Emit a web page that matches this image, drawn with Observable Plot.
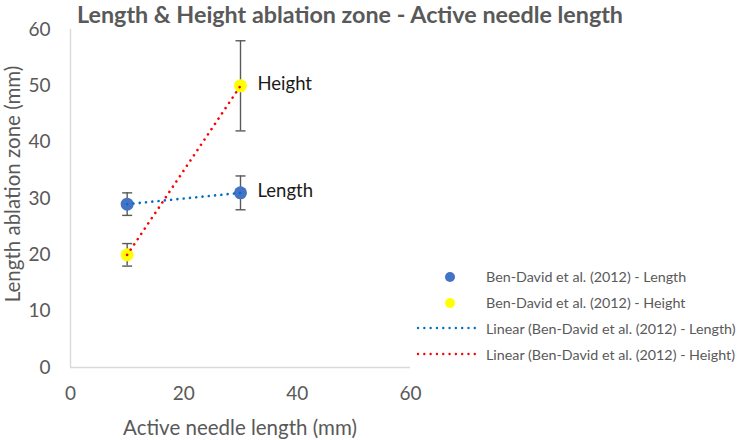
<!DOCTYPE html>
<html><head><meta charset="utf-8">
<script src="https://cdn.jsdelivr.net/npm/d3@7"></script>
<script src="https://cdn.jsdelivr.net/npm/@observablehq/plot@0.6"></script>
<style>
body{margin:0;background:#fff;font-family:Lato,"Open Sans",sans-serif;}
#wrap{position:relative;width:742px;height:440px;overflow:hidden;}
#title{position:absolute;left:0;top:1px;width:700px;text-align:center;font-weight:bold;font-size:23.3px;line-height:26px;color:#595959;}
.axt{position:absolute;color:#595959;font-size:20.5px;white-space:nowrap;}
#xlab{left:70px;width:340px;text-align:center;top:414px;line-height:26px;}
#ylab{left:12px;top:184px;transform:translate(-50%,-50%) rotate(-90deg);line-height:20px;}
#legend{position:absolute;left:414px;top:264px;font-size:14.3px;color:#595959;}
.row{display:flex;align-items:center;height:25.8px;}
.row svg{width:64px;height:14px;margin-right:8px;}
</style></head>
<body><div id="wrap">
<div id="title">Length &amp; Height ablation zone - Active needle length</div>
</div>
<script>
const needleLength = [10, 30];
const lengthMean = [29, 31];
const lengthErr = [2, 3];
const heightMean = [20, 50];
const heightErr = [2, 8];
const seriesLabels = ["Length", "Height"];
const xTicks = [0, 20, 40, 60];
const yTicks = [0, 10, 20, 30, 40, 50, 60];
const legendLabels = [
  "Ben-David et al. (2012) - Length",
  "Ben-David et al. (2012) - Height",
  "Linear (Ben-David et al. (2012) - Length)",
  "Linear (Ben-David et al. (2012) - Height)"
];
const xTitle = "Active needle length (mm)";
const yTitle = "Length ablation zone (mm)";

const lengthRows = needleLength.map((x, i) => ({series: seriesLabels[0], x, y: lengthMean[i], err: lengthErr[i]}));
const heightRows = needleLength.map((x, i) => ({series: seriesLabels[1], x, y: heightMean[i], err: heightErr[i]}));
const allRows = lengthRows.concat(heightRows);
const lastRows = [lengthRows[lengthRows.length - 1], heightRows[heightRows.length - 1]];

const cap = {draw(ctx, size) { const w = Math.sqrt(size / Math.PI); ctx.moveTo(-w, 0); ctx.lineTo(w, 0); }};
const gray = "#595959";
const dotted = {strokeWidth: 2.6, strokeDasharray: "0.01,6.3", strokeLinecap: "round"};

const chart = Plot.plot({
  width: 742, height: 440,
  marginLeft: 70, marginRight: 332, marginTop: 29, marginBottom: 73,
  x: {domain: [0, 60]},
  y: {domain: [0, 60]},
  style: {fontFamily: "Lato, 'Open Sans', sans-serif", fontSize: "19px", color: gray, background: "transparent", overflow: "visible"},
  marks: [
    Plot.axisY({ticks: yTicks, tickSize: 0, tickPadding: 20, label: null}),
    Plot.axisX({ticks: xTicks, tickSize: 0, tickPadding: 19, label: null}),
    Plot.ruleX([0], {stroke: "#d9d9d9", strokeWidth: 1.4}),
    Plot.ruleY([0], {stroke: "#d9d9d9", strokeWidth: 1.4}),
    Plot.ruleX(allRows, {x: "x", y1: d => d.y - d.err, y2: d => d.y + d.err, stroke: gray, strokeWidth: 1.4}),
    Plot.dot(allRows, {x: "x", y: d => d.y + d.err, symbol: cap, r: 5, stroke: gray, strokeWidth: 1.4, fill: "none"}),
    Plot.dot(allRows, {x: "x", y: d => d.y - d.err, symbol: cap, r: 5, stroke: gray, strokeWidth: 1.4, fill: "none"}),
    Plot.dot(lengthRows, {x: "x", y: "y", r: 6.5, fill: "#4472C4"}),
    Plot.dot(heightRows, {x: "x", y: "y", r: 6.5, fill: "#FFFF00"}),
    Plot.line(lengthRows, {x: "x", y: "y", stroke: "#0070C0", ...dotted}),
    Plot.line(heightRows, {x: "x", y: "y", stroke: "#FF0000", ...dotted}),
    Plot.text(lastRows, {x: "x", y: "y", text: "series", textAnchor: "start", dx: 17, dy: -2, fill: "#1a1a1a", fontSize: 18.5})
  ]
});
const wrap = document.getElementById("wrap");
wrap.insertBefore(chart, wrap.firstChild);

const xl = document.createElement("div"); xl.className = "axt"; xl.id = "xlab"; xl.textContent = xTitle; wrap.appendChild(xl);
const yl = document.createElement("div"); yl.className = "axt"; yl.id = "ylab"; yl.textContent = yTitle; wrap.appendChild(yl);

const legend = document.createElement("div"); legend.id = "legend";
const swatches = [
  '<circle cx="36" cy="7" r="5" fill="#4472C4"/>',
  '<circle cx="36" cy="7" r="5" fill="#FFFF00"/>',
  '<line x1="4" x2="61" y1="7" y2="7" stroke="#0070C0" stroke-width="2.4" stroke-dasharray="0.01,6.3" stroke-linecap="round"/>',
  '<line x1="4" x2="61" y1="7" y2="7" stroke="#FF0000" stroke-width="2.4" stroke-dasharray="0.01,6.3" stroke-linecap="round"/>'
];
legendLabels.forEach((lab, i) => {
  const row = document.createElement("div"); row.className = "row";
  row.innerHTML = '<svg viewBox="0 0 64 14">' + swatches[i] + '</svg>';
  const span = document.createElement("span"); span.textContent = lab; row.appendChild(span);
  legend.appendChild(row);
});
wrap.appendChild(legend);
</script>
</body></html>
